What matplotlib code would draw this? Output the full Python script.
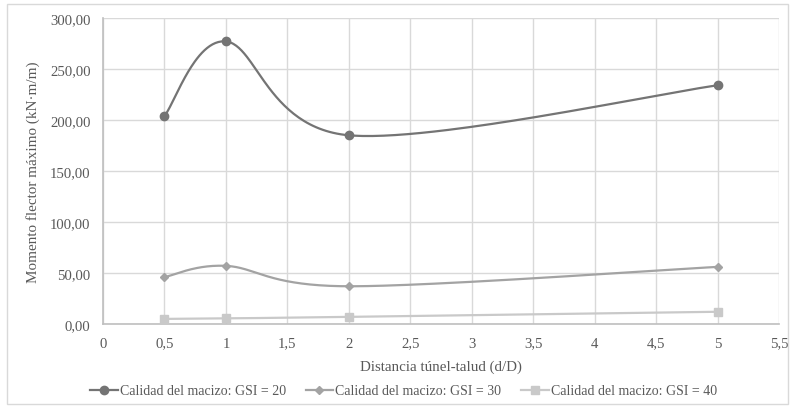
import matplotlib
matplotlib.use("Agg")
import matplotlib.pyplot as plt
import numpy as np
from matplotlib.patches import Rectangle

x_vals = [0.5, 1, 2, 5]
gsi20 = [204, 277, 185, 234]
gsi30 = [46, 57, 37, 56]
gsi40 = [5, 5.5, 7, 12]
labels = ["Calidad del macizo: GSI = 20", "Calidad del macizo: GSI = 30",
          "Calidad del macizo: GSI = 40"]

plt.rcParams['font.family'] = ['Liberation Serif', 'DejaVu Serif']


def smooth(xs, ys, n=60):
    # Catmull-Rom style bezier, like Excel smoothed lines
    p = np.column_stack([xs, ys]).astype(float)
    out = []
    for i in range(len(p) - 1):
        p0 = p[i - 1] if i > 0 else p[i]
        p1 = p[i]
        p2 = p[i + 1]
        p3 = p[i + 2] if i + 2 < len(p) else p[i + 1]
        c1 = p1 + (p2 - p0) / 6
        c2 = p2 - (p3 - p1) / 6
        t = np.linspace(0, 1, n)[:, None]
        seg = ((1 - t) ** 3) * p1 + 3 * ((1 - t) ** 2) * t * c1 + 3 * (1 - t) * t ** 2 * c2 + t ** 3 * p2
        out.append(seg)
    pts = np.vstack(out)
    return pts[:, 0], pts[:, 1]


fig = plt.figure(figsize=(7.95, 4.1), dpi=100)
ax = fig.add_axes([0.1296, 0.2073, 0.8504, 0.7464])

styles = [("#747474", "o", 6), ("#a3a3a3", "D", 4), ("#c9c9c9", "s", 6)]
for ys, lab, (c, m, ms) in zip([gsi20, gsi30, gsi40], labels, styles):
    sx, sy = smooth(x_vals, ys)
    ax.plot(sx, sy, color=c, lw=1.6, zorder=3)
    ax.plot(x_vals, ys, ls='none', marker=m, ms=ms, color=c, zorder=4)
    ax.plot([], [], color=c, lw=1.6, marker=m, ms=ms, label=lab)

ax.set_xlim(0, 5.5)
ax.set_ylim(0, 300)
xt = np.arange(0, 5.51, 0.5)
ax.set_xticks(xt)
ax.set_xticklabels([("%g" % v).replace(".", ",") for v in xt])
yt = np.arange(0, 301, 50)
ax.set_yticks(yt)
ax.set_yticklabels([("%.2f" % v).replace(".", ",") for v in yt])
ax.tick_params(length=0, labelsize=10.6, colors="#595959", pad=9)
ax.grid(True, color="#d9d9d9", lw=1)
ax.set_axisbelow(True)
for s in ["top", "right"]:
    ax.spines[s].set_visible(False)
for s in ["left", "bottom"]:
    ax.spines[s].set_color("#bfbfbf")
    ax.spines[s].set_linewidth(1.2)

ax.set_xlabel("Distancia túnel-talud (d/D)", fontsize=10.8, color="#595959", labelpad=7)
ax.set_ylabel("Momento flector máximo (kN·m/m)", fontsize=10.9, color="#595959", labelpad=7)

fig.legend(loc="center", bbox_to_anchor=(0.5075, 0.044), ncol=3, frameon=False,
           fontsize=10, labelcolor="#595959", handlelength=2.0, columnspacing=1.4,
           handletextpad=0.15)

fig.patches.append(Rectangle((0.009, 0.012), 0.982, 0.976, transform=fig.transFigure,
                             fill=False, edgecolor="#d9d9d9", lw=1))

fig.savefig("out.png", dpi=100)
